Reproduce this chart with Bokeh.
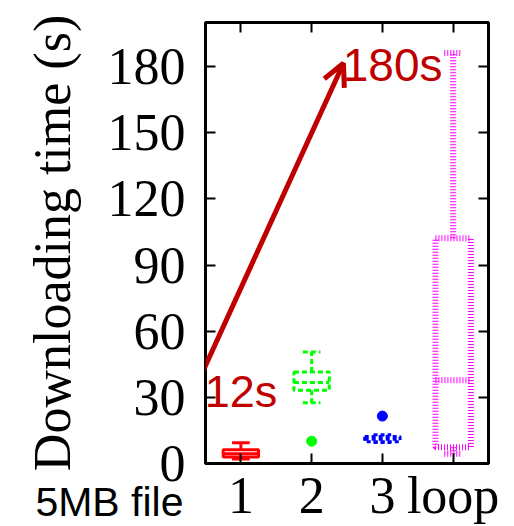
from bokeh.plotting import figure
from bokeh.models import Range1d, LinearAxis, FixedTicker, Label, Arrow, OpenHead, Title
from bokeh.embed import file_html
from bokeh.resources import INLINE

# ---- data ----
categories = ["1", "2", "3", "loop"]
xpos = [1, 2, 3, 4]
whisker_lo = [2.0, 27.6, 9.5, 4.4]
q1 = [2.9, 33.2, 9.9, 7.4]
median = [4.4, 36.7, 11.0, 37.7]
q3 = [6.2, 41.5, 12.3, 102.1]
whisker_hi = [9.4, 50.6, 13.0, 186.2]
outlier_x = [2, 3]
outlier_y = [10.1, 21.5]
outlier_colors = ["#00ff00", "#0000ff"]
y_ticks = [0, 30, 60, 90, 120, 150, 180]
annot_start = (0.43, 39.5)
annot_end = (2.45, 181.5)
annot_low_text = "12s"
annot_high_text = "180s"
annot_low_pos = (0.49, 32.5)
annot_high_pos = (2.44, 180.5)
file_label = "5MB file"

# ---- styles ----
colors = ["#ff0000", "#00ff00", "#0000ff", "#ff00ff"]
dashes = ["solid", "5 3", "4 3", "1 2"]
widths = [3, 3, 3, 6]
box_half = 0.25
cap_half = 0.125
dark_red = "#c00000"

p = figure(width=514, height=526, x_range=Range1d(0.5, 4.5), y_range=Range1d(0, 200),
           output_backend="svg", toolbar_location=None,
           min_border_left=205, min_border_right=26, min_border_top=22, min_border_bottom=63)
p.grid.visible = False
p.outline_line_color = "black"
p.outline_line_width = 3
p.background_fill_color = "white"
p.border_fill_color = "white"

serif = "Liberation Serif"
# left axis
p.yaxis.ticker = FixedTicker(ticks=y_ticks)
p.yaxis.major_tick_in = 10
p.yaxis.major_tick_out = 0
p.yaxis.minor_tick_line_color = None
p.yaxis.major_tick_line_width = 2
p.yaxis.axis_line_width = 3
p.yaxis.major_label_text_font = serif
p.yaxis.major_label_text_font_size = "52px"
p.yaxis.major_label_text_color = "black"
p.yaxis.major_label_standoff = 20
p.yaxis.axis_label = "Downloading time (s)"
p.yaxis.axis_label_text_font = serif
p.yaxis.axis_label_text_font_size = "52px"
p.yaxis.axis_label_text_font_style = "normal"
p.yaxis.axis_label_text_color = "black"
p.yaxis.axis_label_standoff = 24

# bottom axis
p.xaxis.ticker = FixedTicker(ticks=xpos)
p.xaxis.major_label_overrides = {x: c for x, c in zip(xpos, categories)}
p.xaxis.major_tick_in = 10
p.xaxis.major_tick_out = 0
p.xaxis.minor_tick_line_color = None
p.xaxis.major_tick_line_width = 2
p.xaxis.axis_line_width = 3
p.xaxis.major_label_text_font = serif
p.xaxis.major_label_text_font_size = "52px"
p.xaxis.major_label_text_color = "black"
p.xaxis.major_label_standoff = 3

# mirror axes (ticks only)
for loc in ("right", "above"):
    ax = LinearAxis(ticker=FixedTicker(ticks=y_ticks if loc == "right" else xpos))
    ax.major_tick_in = 10
    ax.major_tick_out = 0
    ax.minor_tick_line_color = None
    ax.major_tick_line_width = 2
    ax.axis_line_width = 3
    ax.major_label_text_color = None
    ax.major_label_text_font_size = "1px"
    ax.major_label_standoff = 0
    p.add_layout(ax, loc)

# boxes
for i in range(len(xpos)):
    x = xpos[i]
    kw = dict(line_color=colors[i], line_dash=dashes[i], line_width=widths[i])
    p.quad(left=[x - box_half], right=[x + box_half], bottom=[q1[i]], top=[q3[i]],
           fill_color=None, **kw)
    p.segment(x0=[x - box_half, x, x, x - cap_half, x - cap_half],
              x1=[x + box_half, x, x, x + cap_half, x + cap_half],
              y0=[median[i], q3[i], q1[i], whisker_hi[i], whisker_lo[i]],
              y1=[median[i], whisker_hi[i], whisker_lo[i], whisker_hi[i], whisker_lo[i]],
              **kw)

p.scatter(outlier_x, outlier_y, size=10, color=outlier_colors, marker="circle")

# annotations
p.add_layout(Arrow(end=OpenHead(size=22, line_width=5, line_color=dark_red),
                   x_start=annot_start[0], y_start=annot_start[1],
                   x_end=annot_end[0], y_end=annot_end[1],
                   line_color=dark_red, line_width=5))
p.add_layout(Label(x=annot_low_pos[0], y=annot_low_pos[1], text=annot_low_text,
                   text_font="Liberation Sans", text_font_size="45px", text_color=dark_red,
                   text_baseline="alphabetic", text_align="left"))
p.add_layout(Label(x=annot_high_pos[0], y=annot_high_pos[1], text=annot_high_text,
                   text_font="Liberation Sans", text_font_size="46px", text_color=dark_red,
                   text_baseline="alphabetic", text_align="left"))

# "5MB file" in the bottom-left corner, via a title panel below the x axis
p.add_layout(Title(text=file_label, align="right", offset=305, standoff=-96,
                   vertical_align="top", text_font="Liberation Sans",
                   text_font_size="41px", text_font_style="normal",
                   text_color="black"), "below")

open("out.html", "w").write(file_html(p, INLINE))
